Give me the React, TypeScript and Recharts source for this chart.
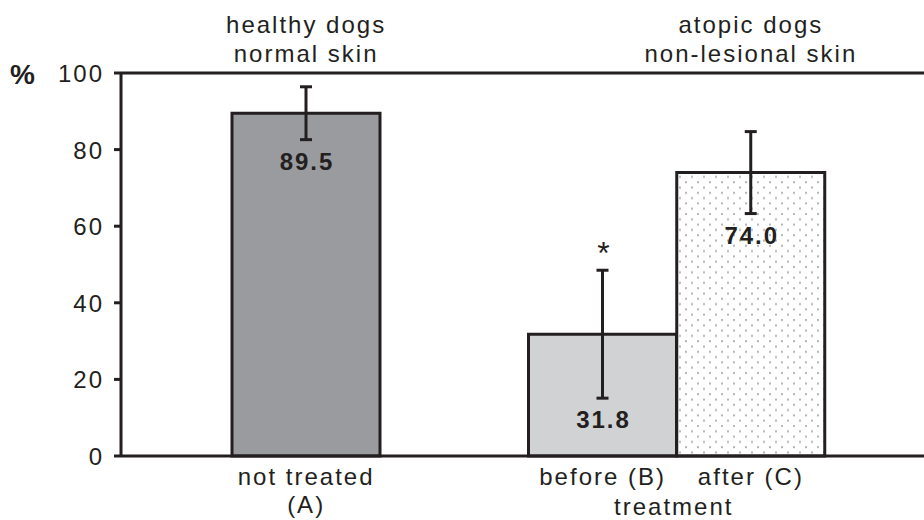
import React from 'react';
import { BarChart, Bar, XAxis, YAxis, ErrorBar, Cell, LabelList } from 'recharts';

// groups along the x axis, "gap" is the empty slot between the two dog groups
const groups = ['A', 'gap', 'B', 'C'];
const percentValues = [89.5, null, 31.8, 74.0];
const errorValues = [6.9, null, 16.7, 10.7];
const valueLabels = ['89.5', '', '31.8', '74.0'];
const significant = [false, false, true, false];
const tickLabels: Record<string, string[]> = {
  A: ['not treated', '(A)'],
  B: ['before (B)'],
  C: ['after (C)']
};
const groupTitles: Record<string, string[]> = {
  A: ['healthy dogs', 'normal skin'],
  C: ['atopic dogs', 'non-lesional skin']
};
const yTicks = [0, 20, 40, 60, 80, 100];

const INK = '#231f20';
const FONT = '"Liberation Sans", Arial, sans-serif';
const barFills = ['#9a9b9f', 'none', '#d1d2d4', 'url(#dotFill)'];

const textStyle = { fontFamily: FONT, fontSize: 24, letterSpacing: 2, fill: INK };

const YTick = (props: any) => {
  const { x, y, payload } = props;
  return (
    <text x={x} y={y + 9} textAnchor="end" style={textStyle}>
      {payload.value}
    </text>
  );
};

const BottomTick = (props: any) => {
  const { x, y, payload } = props;
  const lines = tickLabels[payload.value] || [];
  const half = payload.offset || 74;
  return (
    <g>
      {lines.map((t, i) => (
        <text key={i} x={x} y={y + 29 + i * 28} textAnchor="middle" style={textStyle}>
          {t}
        </text>
      ))}
      {payload.value === 'C' && (
        <text x={x - half - 3} y={y + 59} textAnchor="middle" style={textStyle}>
          treatment
        </text>
      )}
    </g>
  );
};

const TopTick = (props: any) => {
  const { x, y, payload } = props;
  const lines = groupTitles[payload.value] || [];
  return (
    <g>
      {lines.map((t, i) => (
        <text key={i} x={x} y={y - 40 + i * 29} textAnchor="middle" style={textStyle}>
          {t}
        </text>
      ))}
    </g>
  );
};

const renderValueLabel = (props: any) => {
  const { x, y, width, height, value } = props;
  // LabelList skips the empty slot, so look the bar up by its value
  const index = percentValues.indexOf(Number(value));
  if (index < 0) return null;
  const v = percentValues[index] as number;
  const perUnit = Number(height) / v;
  const cx = Number(x) + Number(width) / 2;
  const low = Number(y) + (errorValues[index] || 0) * perUnit;
  const high = Number(y) - (errorValues[index] || 0) * perUnit;
  return (
    <g>
      <text x={cx + 1} y={low + 30} textAnchor="middle" style={{ ...textStyle, fontWeight: 'bold' }}>
        {valueLabels[index]}
      </text>
      {significant[index] && (
        <text x={cx + 1} y={high - 6} textAnchor="middle" style={{ ...textStyle, fontSize: 32, letterSpacing: 0 }}>
          *
        </text>
      )}
    </g>
  );
};

const renderPercent = (props: any) => {
  const { viewBox } = props;
  return (
    <text x={viewBox.x + 10} y={viewBox.y + 11} style={{ ...textStyle, fontSize: 28, fontWeight: 'bold', letterSpacing: 0 }}>
      %
    </text>
  );
};

export default function App() {
  const data = groups.map((g, i) => ({ group: g, value: percentValues[i], err: errorValues[i] }));

  return (
    <div style={{ width: 924, height: 520 }}>
      <style>{'body { margin: 0; }'}</style>
      <BarChart
        width={924}
        height={520}
        data={data}
        margin={{ top: 0, right: 0, bottom: 0, left: 0 }}
        barCategoryGap={0}
        barGap={0}
      >
        <defs>
          <pattern id="dotFill" patternUnits="userSpaceOnUse" width={12} height={10.6}>
            <rect x={0} y={0} width={12} height={10.6} fill="#ffffff" />
            <rect x={1} y={1} width={2} height={2} fill="#b4b4b4" />
            <rect x={7} y={6.3} width={2} height={2} fill="#b4b4b4" />
          </pattern>
        </defs>
        <XAxis
          dataKey="group"
          type="category"
          height={64}
          padding={{ left: 111, right: 99 }}
          axisLine={{ stroke: INK, strokeWidth: 3 }}
          tickLine={false}
          tickSize={0}
          tickMargin={0}
          interval={0}
          tick={<BottomTick />}
        />
        <XAxis
          xAxisId="top"
          dataKey="group"
          type="category"
          orientation="top"
          height={73}
          padding={{ left: 111, right: 99 }}
          axisLine={{ stroke: INK, strokeWidth: 3 }}
          tickLine={false}
          tickSize={0}
          tickMargin={0}
          interval={0}
          tick={<TopTick />}
        />
        <YAxis
          width={121}
          domain={[0, 100]}
          ticks={yTicks}
          interval={0}
          axisLine={{ stroke: INK, strokeWidth: 3 }}
          tickLine={{ stroke: INK, strokeWidth: 3 }}
          tickSize={7}
          tickMargin={10}
          tick={<YTick />}
          label={{ content: renderPercent }}
        />
        <Bar dataKey="value" stroke={INK} strokeWidth={3} isAnimationActive={false}>
          {data.map((d, i) => (
            <Cell key={d.group} fill={barFills[i]} />
          ))}
          <ErrorBar dataKey="err" direction="y" width={6} stroke={INK} strokeWidth={3} isAnimationActive={false} />
          <LabelList dataKey="value" content={renderValueLabel} />
        </Bar>
      </BarChart>
    </div>
  );
}
